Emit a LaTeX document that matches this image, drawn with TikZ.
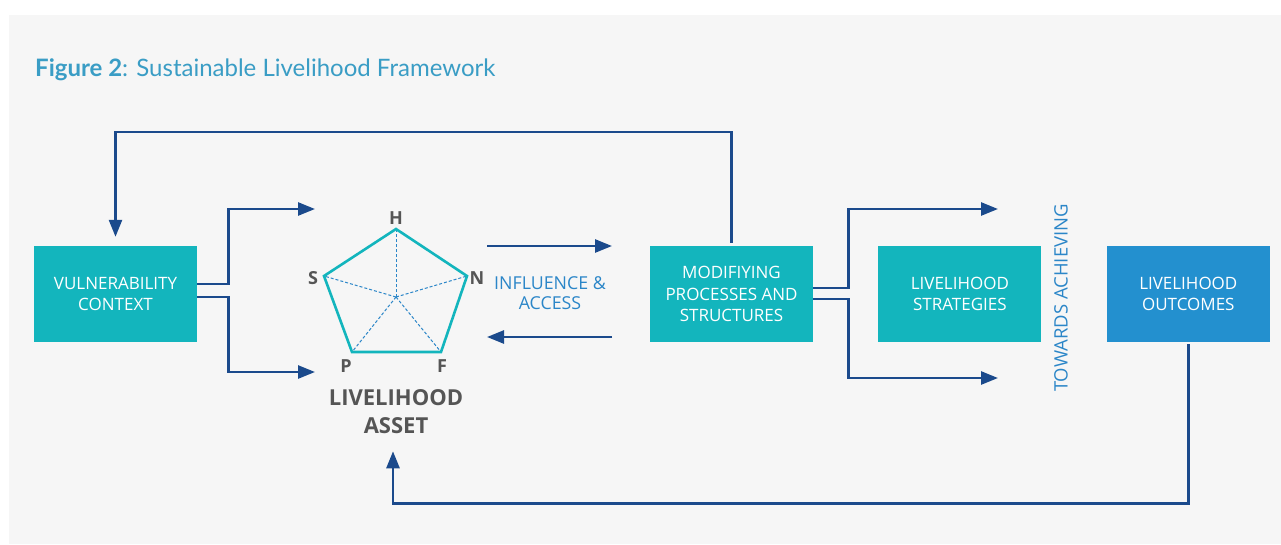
\documentclass[tikz,border=0pt]{standalone}
\usepackage{fontspec}
\setmainfont{Open Sans}
\newfontfamily\titlefont{Lato}
\usetikzlibrary{positioning,arrows.meta}

\definecolor{panelgray}{HTML}{F6F6F6}
\definecolor{boxteal}{HTML}{13B5BD}
\definecolor{outblue}{HTML}{2390CF}
\definecolor{flowblue}{HTML}{1B4A8C}
\definecolor{titleblue}{HTML}{3A9DC5}
\definecolor{textblue}{HTML}{2B86C8}
\definecolor{assetgray}{HTML}{555555}

\tikzset{
	box/.style={fill=boxteal, text=white, minimum width=163pt, minimum height=96pt, inner sep=0pt, align=center, font=\fontsize{17}{21.5}\selectfont},
	flow/.style={draw=flowblue, line width=2.6pt, -{Triangle[length=17pt, width=13pt]}},
	pentaline/.style={draw=boxteal, line width=2.6pt, line join=miter},
	spoke/.style={draw=textblue, line width=1pt, dash pattern=on 3pt off 2pt},
	corner/.style={text=assetgray, font=\bfseries\fontsize{18}{18}\selectfont, inner sep=0pt},
	bluetext/.style={text=textblue, align=center, font=\fontsize{17.8}{20}\selectfont, inner sep=0pt}
}

\begin{document}
\begin{tikzpicture}[x=1pt, y=-1pt]
	\useasboundingbox (0,0) rectangle (1281,544);
	\fill[white] (0,0) rectangle (1281,544);
	\fill[panelgray] (9,15) rectangle (1281,544);
	\node[anchor=base west, inner sep=0pt, text=titleblue, font=\titlefont\fontsize{24}{28}\selectfont] (title) at (35,76) {\textbf{Figure 2}: Sustainable Livelihood Framework};
	% boxes
	\node[box] (vul) at (115.5,294) {VULNERABILITY\\CONTEXT};
	\node[box] (mod) at (731.5,294) {MODIFIYING\\PROCESSES AND\\STRUCTURES};
	\node[box, right=65pt of mod] (strat) {LIVELIHOOD\\STRATEGIES};
	\node[box, fill=outblue, right=65pt of strat] (outc) {LIVELIHOOD\\OUTCOMES};
	% asset pentagon
	\coordinate (pc) at (396,297);
	\coordinate (pH) at (396,229);
	\coordinate (pN) at (467,276);
	\coordinate (pF) at (441,352);
	\coordinate (pP) at (352,352);
	\coordinate (pS) at (324,276);
	\foreach \v in {pH,pN,pF,pP,pS} {
		\draw[spoke] (pc) -- (\v);
	}
	\draw[pentaline] (pH) -- (pN) -- (pF) -- (pP) -- (pS) -- cycle;
	\node[corner] (lH) at (396,218.5) {H};
	\node[corner] (lN) at (477,278) {N};
	\node[corner] (lF) at (442,366.5) {F};
	\node[corner] (lP) at (346,366.5) {P};
	\node[corner] (lS) at (313,278.5) {S};
	\node[text=assetgray, align=center, inner sep=0pt, font=\bfseries\fontsize{22}{28}\selectfont] (asset) at (396,412) {LIVELIHOOD\\ASSET};
	\node[bluetext] (inf) at (550,293.5) {INFLUENCE \&\\ACCESS};
	\node[bluetext, font=\fontsize{18.5}{20}\selectfont, rotate=90] (tow) at (1061,298) {TOWARDS ACHIEVING};
	% free arrow ends
	\coordinate (vTop) at (315,209);
	\coordinate (vBot) at (315,372);
	\coordinate (inA) at (487,246);
	\coordinate (inB) at (612,246);
	\coordinate (backA) at (612,337);
	\coordinate (backB) at (487,337);
	\coordinate (sTop) at (998,209);
	\coordinate (sBot) at (998,378);
	% connectors
	\draw[flow] ([yshift=10pt]vul.east) -- ++(31,0) |- (vTop);
	\draw[flow] ([yshift=-3pt]vul.east) -- ++(31,0) |- (vBot);
	\draw[flow] (inA) -- (inB);
	\draw[flow] (backA) -- (backB);
	\draw[flow] ([yshift=6pt]mod.east) -- ++(35,0) |- (sTop);
	\draw[flow] ([yshift=-5pt]mod.east) -- ++(35,0) |- (sBot);
	\draw[flow, shorten <=3pt, shorten >=9pt] (mod.north) -- ++(0,-114) -| (vul.north);
	\draw[flow, shorten <=2pt, shorten >=17pt] (outc.south) -- ++(0,161) -| ([xshift=-3pt]asset.south);
\end{tikzpicture}
\end{document}
